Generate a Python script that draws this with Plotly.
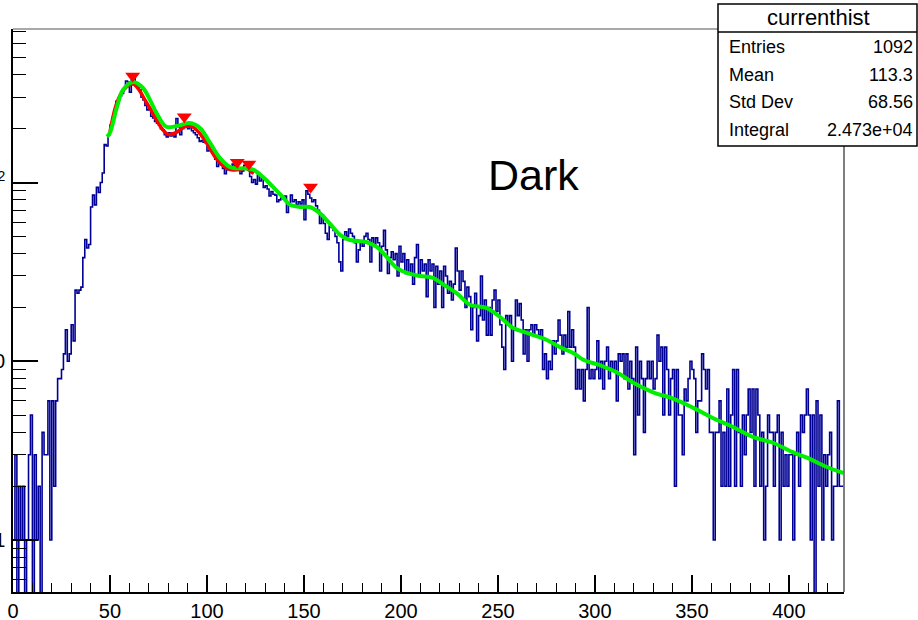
import numpy as np
import plotly.graph_objects as go

# ---------------- data ----------------
bin_width = 1.0
counts = [
    1, 3, 0, 2, 1, 2, 0, 1, 3, 5,
    0, 3, 1, 2, 0, 4, 3, 3, 6, 1,
    6, 2, 6, 8, 8, 9, 11, 15, 10, 11,
    16, 13, 25, 24, 25, 26, 38, 48, 43, 45,
    73, 85, 75, 94, 88, 100, 113, 163, 160, 185,
    210, 230, 245, 285, 290, 305, 315, 335, 370, 365,
    320, 375, 385, 360, 340, 330, 300, 290, 270, 255,
    260, 235, 230, 220, 215, 210, 200, 197, 185, 180,
    190, 182, 190, 180, 228, 205, 185, 200, 212, 210,
    200, 205, 195, 190, 185, 178, 170, 172, 168, 167,
    150, 152, 158, 146, 135, 123, 131, 126, 120, 112,
    118, 122, 119, 127, 123, 129, 121, 112, 116, 125,
    126, 124, 108, 100, 104, 98, 110, 102, 107, 94,
    96, 92, 84, 89, 86, 85, 78, 80, 82, 81,
    84, 68, 76, 85, 78, 80, 75, 78, 76, 80,
    62, 90, 86, 82, 78, 80, 74, 70, 59, 66,
    59, 52, 48, 57, 56, 54, 50, 46, 36, 32,
    48, 53, 50, 55, 52, 50, 46, 36, 42, 47,
    44, 50, 52, 48, 36, 49, 45, 49, 46, 32,
    44, 54, 42, 31, 38, 41, 37, 40, 30, 44,
    36, 40, 31, 37, 31, 35, 27, 38, 45, 30,
    37, 32, 35, 23, 37, 32, 35, 20, 34, 27,
    32, 20, 34, 30, 24, 28, 22, 27, 43, 32,
    25, 32, 28, 20, 26, 23, 15, 20, 24, 13,
    18, 30, 17, 22, 14, 20, 14, 22, 25, 19,
    22, 16, 12, 9, 18, 16, 18, 10, 15, 22,
    18, 21, 17, 11, 15, 10, 15, 16, 14, 16,
    15, 14, 15, 9, 11, 8, 10, 9, 13, 11,
    13, 17, 14, 11, 14, 12, 19, 12, 15, 12,
    7, 9, 7, 9, 6, 9, 20, 8, 9, 8,
    9, 13, 8, 10, 7, 10, 12, 8, 10, 9,
    10, 6, 11, 10, 11, 8, 11, 7, 10, 8,
    3, 12, 5, 10, 8, 4, 8, 10, 8, 10,
    7, 8, 14, 10, 12, 5, 12, 9, 5, 8,
    9, 2, 9, 5, 5, 3, 7, 6, 8, 10,
    9, 8, 4, 6, 6, 11, 9, 7, 9, 4,
    4, 1, 4, 4, 6, 2, 4, 2, 7, 2,
    5, 9, 2, 9, 4, 2, 5, 3, 5, 7,
    4, 7, 2, 7, 5, 2, 4, 1, 2, 5,
    4, 4, 2, 4, 5, 1, 4, 2, 3, 2,
    3, 3, 1, 3, 4, 2, 5, 4, 5, 7,
    5, 1, 5, 0, 6, 2, 5, 1, 3, 2,
    3, 4, 1, 2, 2, 6, 2, 2,
]

# green fit curve (x, value)
fit_x = [48.5, 50, 53.6, 56.7, 62, 67, 70.6, 74, 79, 84.5, 91, 96.4, 101.5,
         106.7, 112, 118.6, 123.8, 129, 134, 139, 142.8, 148, 153, 158, 163,
         168.6, 173.7, 182, 187.5, 192.6, 197.8, 203, 209.8, 216.5, 222,
         228.8, 235.6, 244, 251, 257.7, 264.9, 275, 282, 289, 294, 302.6,
         311, 319.6, 330, 340, 350.5, 361, 371, 381.4, 391.8, 402, 409,
         419.6, 428]
fit_y = [180, 190, 265, 330, 365, 338, 290, 245, 205, 207, 215, 202, 167,
         137, 122, 120, 118, 107, 94.5, 83, 75, 73, 73, 67.6, 59.4,
         51, 47.7, 46.5, 43.6, 38.4, 33.3, 31.2, 30, 29.3, 26.8,
         24, 20.7, 19.9, 17.7, 15.4, 14.4, 13.2, 12, 11.1, 10.2, 9.5,
         8.7, 7.6, 6.7, 6.2, 5.5, 4.8, 4.3, 3.77, 3.5, 3.1, 2.9,
         2.56, 2.37]

# red smoothed curve (mostly hidden below the fit)
red_x = [50, 53, 56, 59, 62, 65, 68, 71, 74, 77, 80, 84, 88, 92, 96, 100,
         104, 108, 112, 116, 120, 124]
red_y = [192, 268, 318, 346, 356, 330, 290, 256, 224, 199, 186, 190, 204,
         206, 190, 165, 140, 125, 118, 118, 120, 112]

# peaks found (red markers)
peak_x = [61.7, 88.3, 115.6, 121.6, 153.4]
peak_y = [395, 233, 130, 127, 94.5]

stats_labels = ["Entries", "Mean", "Std Dev", "Integral"]
stats_values = ["1092", "113.3", "68.56", "2.473e+04"]
hist_name = "currenthist"
label_text = "Dark"

x_range = [0, 428.4]
y_range_log = [-0.291, 2.859]

# ---------------- geometry of the picture ----------------
W, H = 918, 620
L, R, T, B = 13, 844, 29, 592


def px(xp):
    return (xp - L) / (R - L)


def py(yp):
    return (B - yp) / (B - T)


edges = np.arange(len(counts) + 1) * bin_width
floor = 0.2  # empty bins are drawn down to the bottom of the frame
vals = [c if c > 0 else floor for c in counts]
step_x = list(edges)
step_y = vals + [vals[-1]]

FONT = "Liberation Sans, Arimo, Arial, sans-serif"

fig = go.Figure()
fig.add_trace(go.Scatter(x=step_x, y=step_y, mode="lines", line_shape="hv",
                         line=dict(color="#000094", width=1.6),
                         hoverinfo="skip", showlegend=False))
fig.add_trace(go.Scatter(x=red_x, y=red_y, mode="lines", line_shape="spline",
                         line=dict(color="#ff0000", width=3.5),
                         showlegend=False))
fig.add_trace(go.Scatter(x=fit_x, y=fit_y, mode="lines", line_shape="spline",
                         line=dict(color="#00ee00", width=4),
                         showlegend=False))
fig.add_trace(go.Scatter(x=peak_x, y=peak_y, mode="markers",
                         marker=dict(symbol="triangle-down", size=13,
                                     color="#ff0000", line=dict(width=0)),
                         showlegend=False))

minor_y = [0.6, 0.7, 0.8, 0.9] + [k for k in range(2, 10)] + \
          [10 * k for k in range(2, 10)] + [100 * k for k in range(2, 8)]

fig.update_xaxes(range=x_range, showline=True, linecolor="black", linewidth=1.5,
                 ticks="inside", ticklen=17, tickwidth=1.5, tickcolor="black",
                 tick0=0, dtick=50, showgrid=False, zeroline=False,
                 minor=dict(ticks="inside", dtick=10, ticklen=9, tickwidth=1,
                            tickcolor="black", showgrid=False),
                 tickfont=dict(family=FONT, size=20, color="black"),
                 automargin=False)
fig.update_yaxes(type="log", range=y_range_log, showline=True, linecolor="black",
                 linewidth=1.5, ticks="inside", ticklen=25, tickwidth=1.5,
                 tickcolor="black", tickvals=[1, 10, 100],
                 ticktext=["1", "10", "10<sup>2</sup>"], showgrid=False,
                 zeroline=False, ticklabelstandoff=2,
                 minor=dict(ticks="inside", tickvals=minor_y, ticklen=13,
                            tickwidth=1, tickcolor="black", showgrid=False),
                 tickfont=dict(family=FONT, size=20, color="black"),
                 automargin=False)

shapes = [
    dict(type="line", xref="paper", yref="paper", x0=0, x1=1, y0=1, y1=1,
         line=dict(color="#8c8c8c", width=1.5), layer="above"),
    dict(type="line", xref="paper", yref="paper", x0=1, x1=1, y0=0, y1=1,
         line=dict(color="#555555", width=1.5), layer="above"),
    dict(type="rect", xref="paper", yref="paper", x0=px(718), x1=px(917),
         y0=py(146), y1=py(4), fillcolor="white",
         line=dict(color="black", width=1.5), layer="above"),
    dict(type="line", xref="paper", yref="paper", x0=px(718), x1=px(917),
         y0=py(32), y1=py(32), line=dict(color="black", width=1.5),
         layer="above"),
]

annotations = [
    dict(text=hist_name, xref="paper", yref="paper", x=px(818), y=py(18),
         xanchor="center", yanchor="middle", showarrow=False,
         font=dict(family=FONT, size=22, color="black")),
    dict(text=label_text, xref="paper", yref="paper", x=px(486), y=py(175),
         xanchor="left", yanchor="middle", showarrow=False,
         font=dict(family=FONT, size=43, color="black")),
]
row_y = [47, 75, 102, 130]
for lab, val, ry in zip(stats_labels, stats_values, row_y):
    annotations.append(dict(text=lab, xref="paper", yref="paper", x=px(727),
                            y=py(ry), xanchor="left", yanchor="middle",
                            showarrow=False,
                            font=dict(family=FONT, size=18, color="black")))
    annotations.append(dict(text=val, xref="paper", yref="paper", x=px(915),
                            y=py(ry), xanchor="right", yanchor="middle",
                            showarrow=False,
                            font=dict(family=FONT, size=18, color="black")))

fig.update_layout(width=W, height=H,
                  margin=dict(l=L, r=W - R, t=T, b=H - B, pad=0),
                  paper_bgcolor="white", plot_bgcolor="white",
                  shapes=shapes, annotations=annotations, showlegend=False)

fig.write_html("out.html")
